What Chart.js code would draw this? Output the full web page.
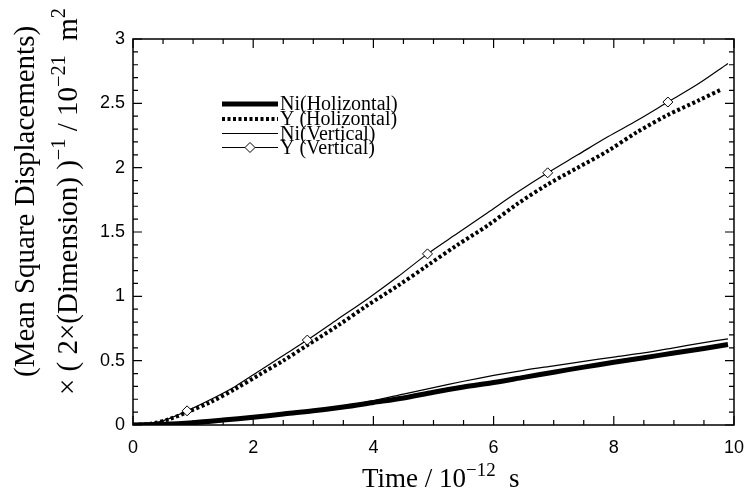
<!DOCTYPE html>
<html>
<head>
<meta charset="utf-8">
<script src="https://cdn.jsdelivr.net/npm/chart.js@4/dist/chart.umd.min.js"></script>
<style>
  html, body { margin: 0; padding: 0; background: #fff; }
  #wrap { width: 756px; height: 491px; position: relative; }
</style>
</head>
<body>
<div id="wrap"><canvas id="c" width="756" height="491"></canvas></div>
<script>
// ---- data ----
const yTimes = [0, 0.3, 0.6, 0.9, 1.3, 1.7, 2.1, 2.5, 2.9, 3.4, 3.9, 4.4, 4.9, 5.4, 5.9, 6.4, 6.9, 7.4, 7.9, 8.4, 8.9, 9.4, 9.9];
const yVertical = [0, 0.01, 0.05, 0.11, 0.2, 0.3, 0.42, 0.54, 0.66, 0.82, 0.98, 1.15, 1.33, 1.49, 1.65, 1.81, 1.96, 2.10, 2.24, 2.37, 2.51, 2.65, 2.81];
const yHTimes = [0, 0.3, 0.6, 0.9, 1.3, 1.7, 2.1, 2.5, 2.9, 3.4, 3.9, 4.4, 4.9, 5.4, 5.9, 6.4, 6.9, 7.4, 7.9, 8.4, 8.9, 9.4, 9.8];
const yHolizontal = [0, 0.01, 0.045, 0.10, 0.18, 0.28, 0.39, 0.50, 0.62, 0.77, 0.93, 1.08, 1.24, 1.40, 1.55, 1.72, 1.87, 2.00, 2.13, 2.28, 2.41, 2.52, 2.61];
const niTimes = [0, 0.5, 1, 1.5, 2, 2.5, 3, 3.5, 4, 4.5, 5, 5.5, 6, 6.5, 7, 7.5, 8, 8.5, 9, 9.5, 9.9];
const niHolizontal = [0, 0.005, 0.018, 0.038, 0.06, 0.085, 0.11, 0.14, 0.175, 0.21, 0.255, 0.295, 0.33, 0.37, 0.41, 0.45, 0.487, 0.522, 0.56, 0.595, 0.625];
const niVertical = [0, 0.005, 0.02, 0.04, 0.065, 0.09, 0.118, 0.148, 0.19, 0.24, 0.29, 0.34, 0.385, 0.425, 0.46, 0.495, 0.528, 0.56, 0.60, 0.64, 0.67];
const markerTimes = [0.9, 2.9, 4.9, 6.9, 8.9];
const seriesNames = ['Ni(Holizontal)', 'Y (Holizontal)', 'Ni(Vertical)', 'Y (Vertical)'];
const xTitle = [{t: 'Time / 10'}, {t: '\u221212', sup: true}, {t: '  s'}];
const yTitle1 = [{t: '(Mean Square Displacements)'}];
const yTitle2 = [{t: '\u00d7 ( 2\u00d7(Dimension) )'}, {t: '\u22121', sup: true}, {t: ' / 10'}, {t: '\u221221', sup: true}, {t: '  m'}, {t: '2', sup: true}];

const pts = (xs, ys) => xs.map((x, i) => ({x: x, y: ys[i]}));

const SERIF = '"Liberation Serif", "Times New Roman", serif';
const SANS = '"Liberation Sans", Arial, sans-serif';

function drawRich(ctx, segs, x, y, size) {
  let cx = x;
  for (const s of segs) {
    const fs = s.sup ? size * 0.7 : size;
    ctx.font = fs + 'px ' + SERIF;
    ctx.fillText(s.t, cx, y - (s.sup ? size * 0.42 : 0));
    cx += ctx.measureText(s.t).width;
  }
}

const framePlugin = {
  id: 'frame',
  afterDraw(chart) {
    const ctx = chart.ctx;
    const a = chart.chartArea;
    const xs = chart.scales.x, ys = chart.scales.y;
    ctx.save();
    ctx.strokeStyle = '#000';
    ctx.lineWidth = 1.5;
    ctx.strokeRect(a.left, a.top, a.right - a.left, a.bottom - a.top);
    ctx.lineWidth = 1.2;
    ctx.beginPath();
    for (let i = 0; i <= 20; i++) {
      const v = i * 0.5;
      const px = xs.getPixelForValue(v);
      const len = (i % 4 === 0) ? 9 : 5;
      ctx.moveTo(px, a.bottom); ctx.lineTo(px, a.bottom - len);
      ctx.moveTo(px, a.top); ctx.lineTo(px, a.top + len);
    }
    for (let i = 0; i <= 30; i++) {
      const v = i * 0.1;
      const py = ys.getPixelForValue(v);
      const len = (i % 5 === 0) ? 9 : 5;
      ctx.moveTo(a.left, py); ctx.lineTo(a.left + len, py);
      ctx.moveTo(a.right, py); ctx.lineTo(a.right - len, py);
    }
    ctx.stroke();

    // axis titles
    ctx.fillStyle = '#000';
    ctx.textBaseline = 'alphabetic';
    ctx.textAlign = 'left';
    drawRich(ctx, xTitle, 362, 487, 27);
    ctx.save();
    ctx.translate(34, 377);
    ctx.rotate(-Math.PI / 2);
    drawRich(ctx, yTitle1, 0, 0, 29);
    ctx.restore();
    ctx.save();
    ctx.translate(77, 395);
    ctx.rotate(-Math.PI / 2);
    drawRich(ctx, yTitle2, 0, 0, 29);
    ctx.restore();

    // legend
    const rows = [104, 119, 133.5, 147.5];
    const x0 = 222, x1 = 278;
    ctx.strokeStyle = '#000';
    ctx.lineWidth = 5; ctx.setLineDash([]);
    ctx.beginPath(); ctx.moveTo(x0, rows[0]); ctx.lineTo(x1, rows[0]); ctx.stroke();
    ctx.lineWidth = 4; ctx.setLineDash([3, 2.5]);
    ctx.beginPath(); ctx.moveTo(x0, rows[1]); ctx.lineTo(x1, rows[1]); ctx.stroke();
    ctx.setLineDash([]);
    ctx.lineWidth = 1;
    ctx.beginPath(); ctx.moveTo(x0, rows[2]); ctx.lineTo(x1, rows[2]); ctx.stroke();
    ctx.beginPath(); ctx.moveTo(x0, rows[3]); ctx.lineTo(x1, rows[3]); ctx.stroke();
    const cx = (x0 + x1) / 2, r = 5;
    ctx.beginPath();
    ctx.moveTo(cx, rows[3] - r); ctx.lineTo(cx + r, rows[3]); ctx.lineTo(cx, rows[3] + r); ctx.lineTo(cx - r, rows[3]); ctx.closePath();
    ctx.fillStyle = '#fff'; ctx.fill(); ctx.stroke();
    ctx.fillStyle = '#000';
    ctx.font = '20px ' + SERIF;
    ctx.textBaseline = 'middle';
    seriesNames.forEach((n, i) => ctx.fillText(n, 280, rows[i] + 1));
    ctx.restore();
  }
};

new Chart(document.getElementById('c'), {
  type: 'line',
  data: {
    datasets: [
      { label: seriesNames[0], data: pts(niTimes, niHolizontal), borderColor: '#000', borderWidth: 5, pointRadius: 0, tension: 0.3, order: 4 },
      { label: seriesNames[1], data: pts(yHTimes, yHolizontal), borderColor: '#000', borderWidth: 4, borderDash: [3, 2.5], pointRadius: 0, tension: 0.3, order: 3 },
      { label: seriesNames[2], data: pts(niTimes, niVertical), borderColor: '#000', borderWidth: 1.2, pointRadius: 0, tension: 0.3, order: 2 },
      { label: seriesNames[3], data: pts(yTimes, yVertical), borderColor: '#000', borderWidth: 1.2, tension: 0.3, order: 1,
        pointStyle: 'rectRot', backgroundColor: '#fff', pointBorderColor: '#000', pointBorderWidth: 1,
        pointRadius: c => markerTimes.includes(c.raw && c.raw.x) ? 5 : 0 }
    ]
  },
  options: {
    responsive: false,
    animation: false,
    devicePixelRatio: 1,
    layout: { padding: { top: 39, right: 18, left: 0, bottom: 0 } },
    plugins: { legend: { display: false }, tooltip: { enabled: false } },
    scales: {
      x: {
        type: 'linear', min: 0, max: 10,
        ticks: { stepSize: 2, color: '#000', padding: 12, font: { family: SANS, size: 18 }, maxRotation: 0,
                 callback: v => String(v) },
        grid: { display: false, drawTicks: false },
        border: { display: false },
        afterFit: s => { s.height = 66; }
      },
      y: {
        min: 0, max: 3,
        ticks: { stepSize: 0.5, color: '#000', padding: 8, font: { family: SANS, size: 18 },
                 callback: v => String(Math.round(v * 10) / 10) },
        grid: { display: false, drawTicks: false },
        border: { display: false },
        afterFit: s => { s.width = 133; }
      }
    }
  },
  plugins: [framePlugin]
});
</script>
</body>
</html>
